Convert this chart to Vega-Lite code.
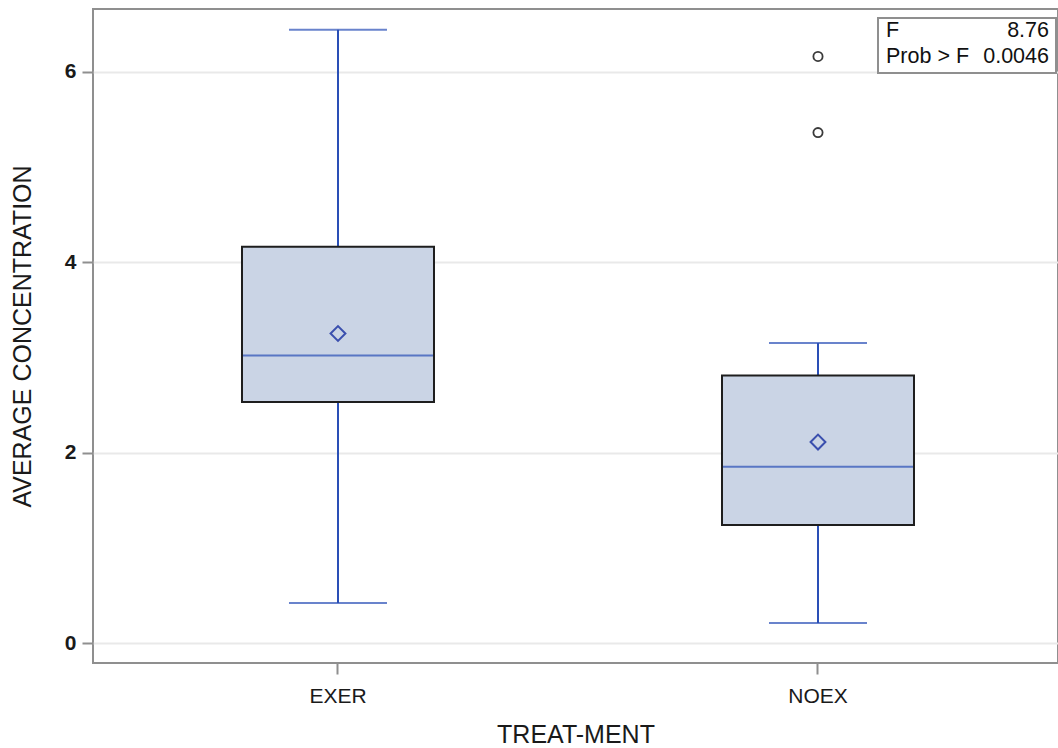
{
  "$schema": "https://vega.github.io/schema/vega-lite/v6.json",
  "width": 965,
  "height": 654,
  "autosize": {"type": "none"},
  "padding": {"left": 93, "top": 9, "right": 0, "bottom": 85},
  "background": "white",
  "config": {
    "view": {"stroke": "#8f8f8f", "strokeWidth": 2},
    "font": "Liberation Sans"
  },
  "layer": [
    {
      "data": {
        "values": [
          {"treatment": "EXER", "lower": 0.42, "q1": 2.53, "median": 3.02, "q3": 4.16, "upper": 6.44, "mean": 3.25},
          {"treatment": "NOEX", "lower": 0.21, "q1": 1.24, "median": 1.85, "q3": 2.81, "upper": 3.15, "mean": 2.11}
        ]
      },
      "encoding": {
        "x": {
          "field": "treatment",
          "type": "nominal",
          "title": "TREAT-MENT",
          "scale": {"type": "band", "domain": ["EXER", "NOEX"], "paddingInner": 0, "paddingOuter": 0.0052, "align": 1},
          "axis": {
            "domain": false, "grid": false, "labelAngle": 0,
            "tickSize": 11, "tickColor": "#8f8f8f", "tickWidth": 2,
            "labelFontSize": 21, "labelColor": "#1a1a1a", "labelPadding": 11,
            "titleFontSize": 25, "titleFontWeight": "normal", "titleColor": "#1a1a1a", "titlePadding": 16
          }
        }
      },
      "layer": [
        {
          "mark": {"type": "rule", "color": "#2a4fb6", "strokeWidth": 2},
          "encoding": {
            "y": {
              "field": "q3", "type": "quantitative", "title": "AVERAGE CONCENTRATION",
              "scale": {"domain": [-0.21, 6.658], "nice": false, "zero": false},
              "axis": {
                "values": [0, 2, 4, 6], "format": "d", "domain": false,
                "grid": true, "gridColor": "#e9e9e9", "gridWidth": 2,
                "tickSize": 11, "tickColor": "#8f8f8f", "tickWidth": 2,
                "labelFontSize": 21, "labelFontWeight": "bold", "labelColor": "#1a1a1a", "labelPadding": 6,
                "titleFontSize": 25, "titleFontWeight": "normal", "titleColor": "#1a1a1a", "titlePadding": 29
              }
            },
            "y2": {"field": "upper"}
          }
        },
        {
          "mark": {"type": "rule", "color": "#2a4fb6", "strokeWidth": 2},
          "encoding": {
            "y": {"field": "lower", "type": "quantitative", "title": "AVERAGE CONCENTRATION"},
            "y2": {"field": "q1"}
          }
        },
        {
          "transform": [{"fold": ["lower", "upper"], "as": ["end", "whisker"]}],
          "mark": {"type": "tick", "color": "#2a4fb6", "size": 98, "thickness": 2},
          "encoding": {
            "y": {"field": "whisker", "type": "quantitative", "title": "AVERAGE CONCENTRATION"}
          }
        },
        {
          "mark": {"type": "bar", "width": {"band": 0.4}, "fill": "#cad4e5", "stroke": "#1e1e1e", "strokeWidth": 2},
          "encoding": {
            "y": {"field": "q1", "type": "quantitative", "title": "AVERAGE CONCENTRATION"},
            "y2": {"field": "q3"}
          }
        },
        {
          "mark": {"type": "tick", "color": "#2a4fb6", "size": 190, "thickness": 2},
          "encoding": {
            "y": {"field": "median", "type": "quantitative", "title": "AVERAGE CONCENTRATION"}
          }
        },
        {
          "mark": {"type": "point", "shape": "diamond", "filled": false, "size": 220, "stroke": "#3a4fae", "strokeWidth": 2, "opacity": 1},
          "encoding": {
            "y": {"field": "mean", "type": "quantitative", "title": "AVERAGE CONCENTRATION"}
          }
        },
        {
          "data": {
            "values": [
              {"treatment": "NOEX", "value": 6.16},
              {"treatment": "NOEX", "value": 5.36}
            ]
          },
          "mark": {"type": "point", "shape": "circle", "filled": false, "size": 85, "stroke": "#3a3a3a", "strokeWidth": 1.8, "opacity": 1},
          "encoding": {
            "y": {"field": "value", "type": "quantitative", "title": "AVERAGE CONCENTRATION"}
          }
        }
      ]
    },
    {
      "data": {
        "values": [
          {"stat": "F", "value": "8.76"},
          {"stat": "Prob > F", "value": "0.0046"}
        ]
      },
      "layer": [
        {
          "transform": [{"aggregate": [{"op": "count", "as": "rows"}]}],
          "mark": {"type": "rect", "fill": "white", "stroke": "#8f8f8f", "strokeWidth": 2},
          "encoding": {
            "x": {"value": {"expr": "width - 180"}},
            "x2": {"value": {"expr": "width - 2"}},
            "y": {"value": 9},
            "y2": {"value": 64}
          }
        },
        {
          "mark": {"type": "text", "align": "left", "baseline": "middle", "fontSize": 21.5, "color": "#111111"},
          "encoding": {
            "x": {"value": {"expr": "width - 172"}},
            "y": {"field": "stat", "type": "nominal", "scale": {"type": "point", "domain": ["F", "Prob > F"], "range": [22, 48], "padding": 0}, "axis": null},
            "text": {"field": "stat"}
          }
        },
        {
          "mark": {"type": "text", "align": "right", "baseline": "middle", "fontSize": 21.5, "color": "#111111"},
          "encoding": {
            "x": {"value": {"expr": "width - 9"}},
            "y": {"field": "stat", "type": "nominal", "axis": null},
            "text": {"field": "value"}
          }
        }
      ]
    }
  ],
  "resolve": {"scale": {"y": "independent"}}
}
